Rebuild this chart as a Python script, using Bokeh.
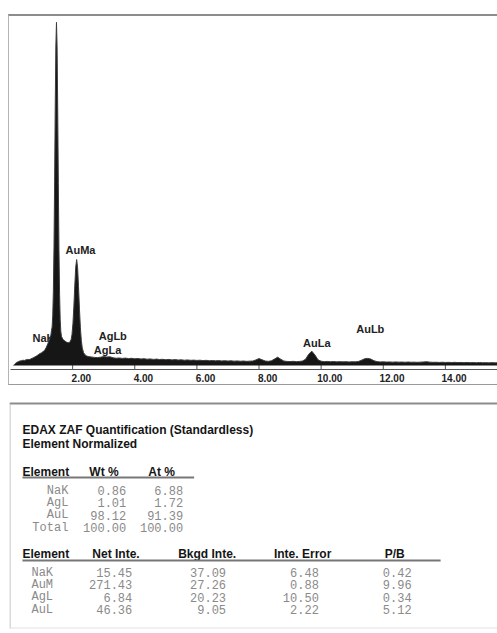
from bokeh.plotting import figure
from bokeh.models import Range1d, LinearAxis, FixedTicker, Spacer
from bokeh.layouts import column, row
from bokeh.core.properties import value
from bokeh.embed import file_html
from bokeh.resources import INLINE

# ---------------- spectrum data (keV, counts) ----------------
energy_low = [0.10, 0.12, 0.15, 0.20, 0.25, 0.30, 0.35, 0.40, 0.45, 0.50,
              0.55, 0.60, 0.65, 0.70, 0.75, 0.80, 0.85, 0.90, 0.95, 1.00,
              1.05, 1.10, 1.15, 1.20, 1.25, 1.28, 1.30, 1.32, 1.34, 1.36,
              1.38, 1.40, 1.42, 1.44, 1.46, 1.48, 1.50, 1.52, 1.54, 1.56,
              1.58, 1.60, 1.62, 1.64, 1.68, 1.72, 1.76, 1.80, 1.85, 1.90,
              1.95, 1.98, 2.01, 2.04, 2.07, 2.10, 2.13, 2.16, 2.19, 2.22,
              2.25, 2.28, 2.31, 2.35, 2.40, 2.45, 2.50]
counts_low = [0, 8, 18, 30, 38, 44, 47, 52, 50, 56,
              60, 58, 64, 72, 78, 88, 96, 108, 118, 126,
              138, 150, 178, 215, 255, 280, 300, 348, 381, 492,
              735, 1174, 1820, 2559, 3167, 3402, 3162, 2547, 1802, 1150,
              704, 454, 337, 290, 262, 250, 240, 232, 225, 228,
              255, 308, 416, 585, 795, 975, 1050, 969, 780, 558,
              373, 248, 175, 129, 105, 95, 88]

energy_high = [2.6, 2.7, 2.8, 2.9, 3.0, 3.1, 3.2, 3.3, 3.4, 3.5,
               3.6, 3.7, 3.8, 3.9, 4.0, 4.1, 4.2, 4.3, 4.4, 4.5,
               4.6, 4.7, 4.8, 4.9, 5.0, 5.1, 5.2, 5.3, 5.4, 5.5,
               5.6, 5.7, 5.8, 5.9, 6.0, 6.1, 6.2, 6.3, 6.4, 6.5,
               6.6, 6.7, 6.8, 6.9, 7.0, 7.1, 7.2, 7.3, 7.4, 7.5,
               7.6, 7.7, 7.8, 7.9, 8.0, 8.1, 8.2, 8.3, 8.4, 8.5,
               8.6, 8.7, 8.8, 8.9, 9.0, 9.1, 9.2, 9.3, 9.4, 9.5,
               9.6, 9.7, 9.8, 9.9, 10.0, 10.1, 10.2, 10.3, 10.4, 10.5,
               10.6, 10.7, 10.8, 10.9, 11.0, 11.1, 11.2, 11.3, 11.4, 11.5,
               11.6, 11.7, 11.8, 11.9, 12.0, 12.1, 12.2, 12.3, 12.4, 12.5,
               12.6, 12.7, 12.8, 12.9, 13.0, 13.1, 13.2, 13.3, 13.4, 13.5,
               13.6, 13.7, 13.8, 13.9, 14.0, 14.1, 14.2, 14.3, 14.4, 14.5,
               14.6, 14.7, 14.8, 14.9, 15.0, 15.1, 15.2, 15.3, 15.4, 15.5,
               15.6, 15.7]
counts_high = [84, 80, 78, 82, 88, 84, 86, 76, 72, 74,
               70, 73, 68, 71, 66, 69, 64, 67, 62, 65,
               60, 63, 59, 61, 57, 60, 55, 58, 54, 56,
               52, 55, 51, 53, 50, 52, 48, 51, 47, 49,
               46, 48, 45, 47, 44, 46, 43, 45, 42, 44,
               41, 43, 44, 55, 68, 56, 44, 41, 46, 64,
               82, 62, 44, 40, 39, 41, 38, 40, 44, 62,
               112, 142, 104, 56, 42, 38, 40, 37, 39, 36,
               38, 36, 37, 35, 37, 36, 40, 52, 66, 70,
               63, 47, 38, 35, 36, 34, 35, 33, 35, 33,
               34, 32, 34, 32, 33, 31, 33, 35, 37, 33,
               31, 32, 30, 32, 30, 31, 29, 31, 29, 30,
               28, 30, 28, 29, 27, 29, 27, 28, 26, 28,
               26, 27]

tick_kev = [2, 4, 6, 8, 10, 12, 14]
tick_labels = ["2.00", "4.00", "6.00", "8.00", "10.00", "12.00", "14.00"]

peak_names = ["NaK", "AuMa", "AgLb", "AgLa", "AuLa", "AuLb"]
label_kev = [0.71, 1.77, 2.84, 2.68, 9.42, 11.13]
label_counts = [270, 1140, 290, 150, 220, 360]

# ---------------- quantification tables ----------------
title_lines = ["EDAX ZAF Quantification (Standardless)", "Element Normalized"]
wt_header = ["Element", "Wt %", "At %"]
wt_elements = ["NaK", "AgL", "AuL", "Total"]
wt_pct = [0.86, 1.01, 98.12, 100.00]
at_pct = [6.88, 1.72, 91.39, 100.00]

int_header = ["Element", "Net Inte.", "Bkgd Inte.", "Inte. Error", "P/B"]
int_elements = ["NaK", "AuM", "AgL", "AuL"]
net_inte = [15.45, 271.43, 6.84, 46.36]
bkgd_inte = [37.09, 27.26, 20.23, 9.05]
inte_error = [6.48, 0.88, 10.50, 2.22]
p_b = [0.42, 9.96, 0.34, 5.12]

# ---------------- figure 1: spectrum ----------------
W = 489
XMAX = 15.71
energy = energy_low + energy_high
counts = counts_low + counts_high

p = figure(width=W, height=371, x_range=Range1d(0, XMAX), y_range=Range1d(-40, 3460),
           output_backend="svg", toolbar_location=None,
           x_axis_location=None, y_axis_location=None,
           min_border_left=1, min_border_right=0, min_border_top=0, min_border_bottom=18,
           styles={"border-top": "2px solid #8c8c8c", "border-left": "1px solid #b4b4b4",
                   "border-bottom": "1px solid #9a9a9a"})
p.grid.visible = False
p.outline_line_color = None
p.background_fill_color = "white"

p.extra_x_ranges = {"labels": Range1d(-0.28, XMAX - 0.28)}
ax = LinearAxis(x_range_name="labels", ticker=FixedTicker(ticks=tick_kev),
                major_label_overrides={t: l for t, l in zip(tick_kev, tick_labels)})
ax.major_tick_in = 0
ax.major_tick_out = 0
ax.minor_tick_in = 0
ax.minor_tick_out = 0
ax.axis_line_color = "#555555"
ax.major_label_standoff = 4
ax.major_label_text_font = "Liberation Sans"
ax.major_label_text_font_style = "bold"
ax.major_label_text_font_size = "10px"
ax.major_label_text_color = "#222222"
p.add_layout(ax, "below")

# tick marks at the true energies
p.segment(x0=tick_kev, y0=[-40] * len(tick_kev), x1=tick_kev, y1=[8] * len(tick_kev),
          line_color="#555555", line_width=1)

# peak labels (drawn first so the NaK label sits behind the peak)
p.text(x=label_kev, y=label_counts, text=peak_names,
       text_font=value("Liberation Sans"), text_font_style="bold",
       text_font_size=value("11px"), text_color="#222222",
       text_align="left", text_baseline="middle")

p.varea(x=energy, y1=[0] * len(energy), y2=counts, fill_color="#161616")
p.line(x=energy, y=counts, line_color="#3c3c3c", line_width=1)

# ---------------- figure 2: tables ----------------
H2 = 246
t = figure(width=W, height=H2, x_range=Range1d(0, W), y_range=Range1d(H2, 0),
           output_backend="svg", toolbar_location=None,
           x_axis_location=None, y_axis_location=None,
           min_border_left=0, min_border_right=0, min_border_top=0, min_border_bottom=0)
t.grid.visible = False
t.outline_line_color = None

# box lines
t.segment(x0=[0], y0=[18], x1=[W], y1=[18], line_color="#8c8c8c", line_width=2)
t.segment(x0=[0.5], y0=[18], x1=[0.5], y1=[243], line_color="#b4b4b4", line_width=1)
t.segment(x0=[0], y0=[242.5], x1=[W], y1=[242.5], line_color="#e2e2e2", line_width=1)

bold = dict(text_font=value("Liberation Sans"), text_font_style="bold",
            text_font_size=value("12px"), text_color="#151515", text_baseline="middle")
mono = dict(text_font=value("Liberation Mono"), text_font_size=value("12px"),
            text_color="#8a8a8a", text_baseline="middle")

t.text(x=[13, 13], y=[44, 58], text=title_lines, text_align="left", **bold)

# table 1
t.text(x=[13, 80, 139], y=[86] * 3, text=wt_header, text_align="left", **bold)
t.segment(x0=[13], y0=[92], x1=[185], y1=[92], line_color="#777777", line_width=2)
row1 = [105 + 12.4 * i for i in range(len(wt_elements))]
t.text(x=[59] * 4, y=row1, text=wt_elements, text_align="right", **mono)
t.text(x=[117] * 4, y=row1, text=["%.2f" % v for v in wt_pct], text_align="right", **mono)
t.text(x=[174] * 4, y=row1, text=["%.2f" % v for v in at_pct], text_align="right", **mono)

# table 2
t.text(x=[13, 83, 169, 265, 376], y=[168] * 5, text=int_header, text_align="left", **bold)
t.segment(x0=[13], y0=[175], x1=[432], y1=[175], line_color="#777777", line_width=2)
row2 = [187 + 12.4 * i for i in range(len(int_elements))]
t.text(x=[22] * 4, y=row2, text=int_elements, text_align="left", **mono)
for xr, vals in zip([123, 217, 310, 403], [net_inte, bkgd_inte, inte_error, p_b]):
    t.text(x=[xr] * 4, y=row2, text=["%.2f" % v for v in vals], text_align="right", **mono)

layout = row(Spacer(width=8, height=10),
             column(Spacer(height=14, width=W), p, t, spacing=0),
             spacing=0)
open("out.html", "w").write(file_html(layout, INLINE))
